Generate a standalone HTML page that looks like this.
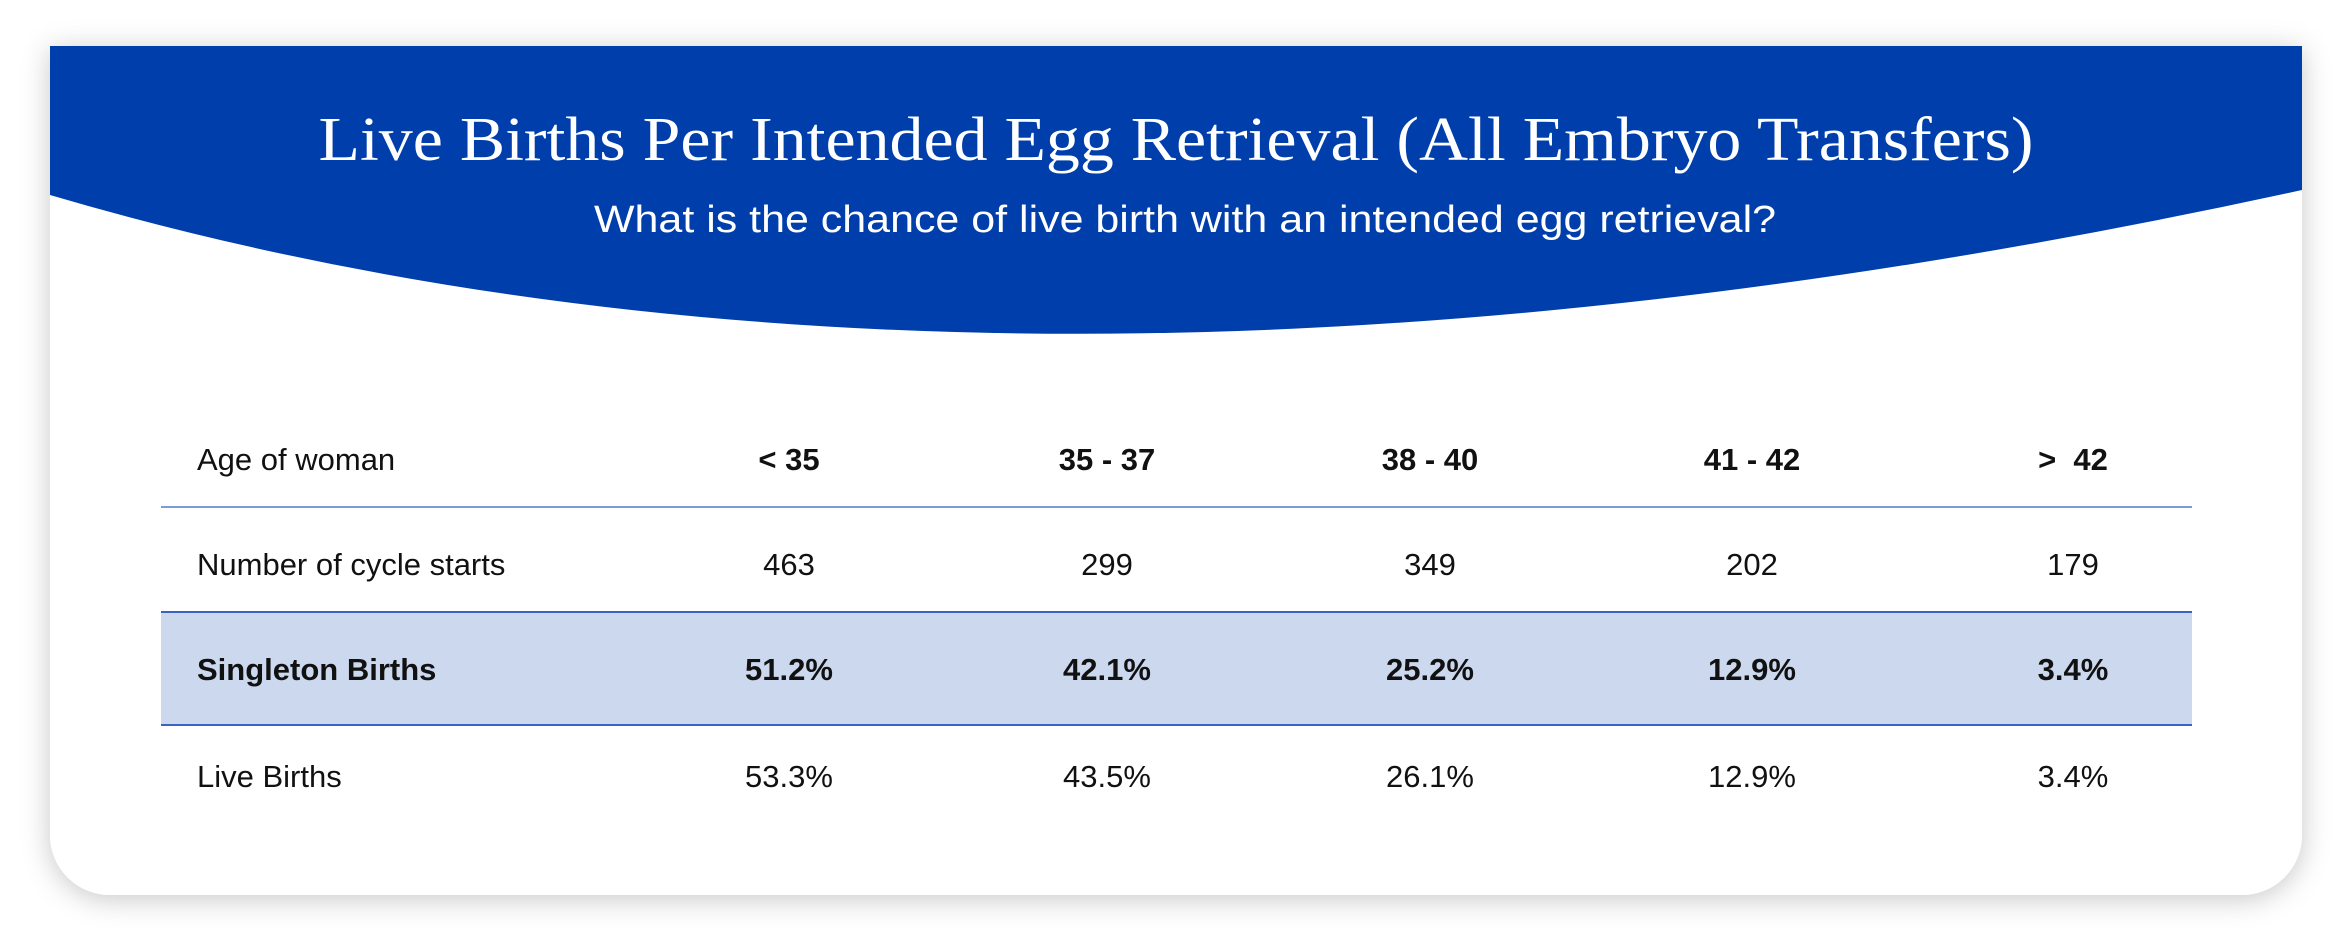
<!DOCTYPE html>
<html><head><meta charset="utf-8"><style>
html,body{margin:0;padding:0;background:#fff;width:2350px;height:950px;overflow:hidden}
svg{display:block}
</style></head><body>
<svg width="2350" height="950" viewBox="0 0 2350 950">
<defs><filter id="sh" x="-5%" y="-10%" width="110%" height="120%"><feDropShadow dx="0" dy="4" stdDeviation="14" flood-color="#000" flood-opacity="0.22"/></filter>
<clipPath id="cardclip"><path d="M50,46 H2302 V835 a60,60 0 0 1 -60,60 H110 a60,60 0 0 1 -60,-60 Z"/></clipPath></defs>
<path d="M50,46 H2302 V835 a60,60 0 0 1 -60,60 H110 a60,60 0 0 1 -60,-60 Z" fill="#fff" filter="url(#sh)"/>
<g clip-path="url(#cardclip)">
<path d="M50,46 H2302 V190 Q1000,475 50,195 Z" fill="#003fab"/>
</g>
<text x="1176" y="160" text-anchor="middle" font-family="Liberation Serif, serif" font-size="62" fill="#fff" textLength="1715" lengthAdjust="spacingAndGlyphs">Live Births Per Intended Egg Retrieval (All Embryo Transfers)</text>
<text x="1185" y="232" text-anchor="middle" font-family="Liberation Sans, sans-serif" font-size="38" fill="#fff" textLength="1182" lengthAdjust="spacingAndGlyphs">What is the chance of live birth with an intended egg retrieval?</text>
<rect x="161" y="612" width="2031" height="113" fill="#cbd8ee"/>
<line x1="161" y1="507" x2="2192" y2="507" stroke="#7d9bd6" stroke-width="2"/>
<line x1="161" y1="612" x2="2192" y2="612" stroke="#3a62c0" stroke-width="2"/>
<line x1="161" y1="725" x2="2192" y2="725" stroke="#3a62c0" stroke-width="2"/>
<g id="tbl" font-family="Liberation Sans, sans-serif" font-size="31" fill="#111"></g>
</svg>
<script>
const ageGroups = ["< 35","35 - 37","38 - 40","41 - 42",">  42"];
const cycleStarts = ["463","299","349","202","179"];
const singletonBirths = ["51.2%","42.1%","25.2%","12.9%","3.4%"];
const liveBirths = ["53.3%","43.5%","26.1%","12.9%","3.4%"];
const colX = [789,1107,1430,1752,2073];
const rows = [
 {label:"Age of woman", vals:ageGroups, y:470, labelBold:false, valBold:true, name:"age-header"},
 {label:"Number of cycle starts", vals:cycleStarts, y:575, labelBold:false, valBold:false, name:"cycle-starts"},
 {label:"Singleton Births", vals:singletonBirths, y:680, labelBold:true, valBold:true, name:"singleton-births"},
 {label:"Live Births", vals:liveBirths, y:787, labelBold:false, valBold:false, name:"live-births"}
];
const g = document.getElementById('tbl');
const NS = "http://www.w3.org/2000/svg";
rows.forEach(r => {
  const t = document.createElementNS(NS,'text');
  
  
  t.setAttribute('x', 197); t.setAttribute('y', r.y);
  if (r.labelBold) t.setAttribute('font-weight','bold');
  t.textContent = r.label;
  g.appendChild(t);
  r.vals.forEach((v,i) => {
    const c = document.createElementNS(NS,'text');
    
    
    c.setAttribute('x', colX[i]); c.setAttribute('y', r.y);
    c.setAttribute('text-anchor','middle');
    if (r.valBold) c.setAttribute('font-weight','bold');
    c.setAttribute('xml:space','preserve');
    c.style.whiteSpace = 'pre';
    c.textContent = v;
    g.appendChild(c);
  });
});
</script>
</body></html>
